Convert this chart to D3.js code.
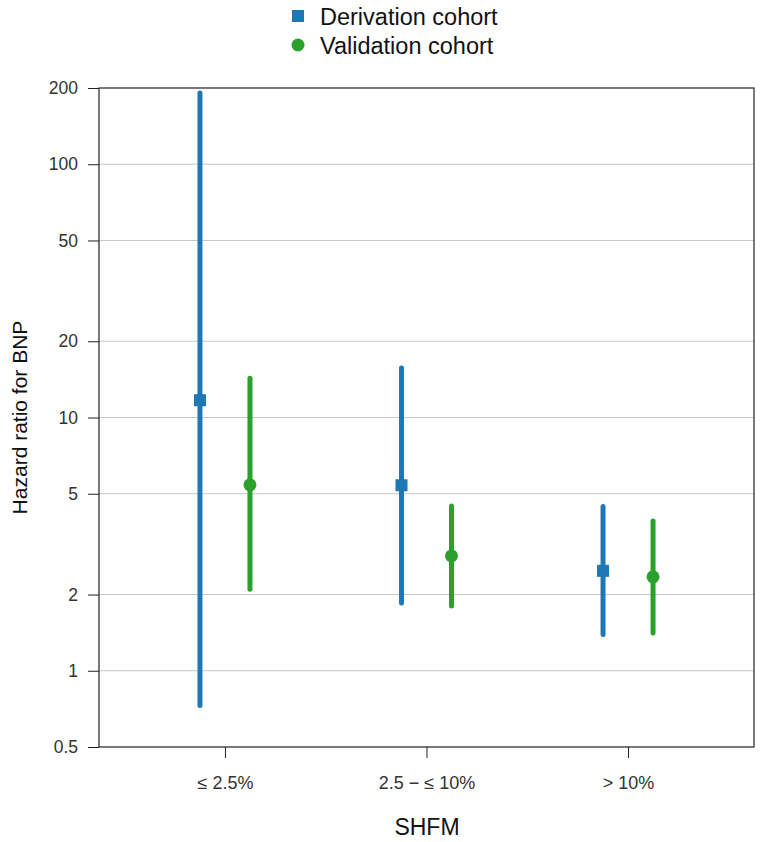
<!DOCTYPE html>
<html>
<head>
<meta charset="utf-8">
<script src="https://cdn.jsdelivr.net/npm/d3@7"></script>
<style>
  body { margin: 0; background: #fff; }
  text { font-family: "Liberation Sans", Arial, sans-serif; }
</style>
</head>
<body>
<svg id="chart" width="764" height="842"></svg>
<script>
// categories and values
var categories = ["\u2264 2.5%", "2.5 \u2212 \u2264 10%", "> 10%"]
var series = ["Derivation cohort", "Validation cohort"]
var derivHR    = [11.7, 5.4, 2.48]
var derivLower = [0.73, 1.85, 1.39]
var derivUpper = [191, 15.7, 4.45]
var validHR    = [5.42, 2.84, 2.35]
var validLower = [2.1, 1.8, 1.41]
var validUpper = [14.3, 4.47, 3.9]
var yTicks = [0.5, 1, 2, 5, 10, 20, 50, 100, 200]

var colors = ["#1f77b4", "#2ca02c"]

// plot box (window.top is reserved, so use own names)
var plotLeft = 99, plotRight = 754, plotTop = 88, plotBottom = 747

var svg = d3.select("#chart")

var x = d3.scalePoint()
    .domain(categories)
    .range([plotLeft, plotRight])
    .padding(0.625)

var y = d3.scaleLog()
    .domain([0.5, 200])
    .range([plotBottom, plotTop])

var offset = d3.scalePoint()
    .domain(series)
    .range([-25, 25])

// gridlines
svg.append("g")
    .selectAll("line")
    .data(yTicks.slice(1, -1))
    .join("line")
    .attr("x1", plotLeft)
    .attr("x2", plotRight)
    .attr("y1", d => y(d))
    .attr("y2", d => y(d))
    .style("stroke", "#c8c8c8")
    .style("stroke-width", 1)

// y axis
var yAxis = svg.append("g")
    .attr("transform", "translate(" + plotLeft + ",0)")
    .call(d3.axisLeft(y).tickValues(yTicks).tickFormat(d => d).tickSize(11).tickPadding(10))
yAxis.select(".domain").remove()
yAxis.selectAll("line").style("stroke", "#222")
yAxis.selectAll("text")
    .style("font-size", "17.5px")
    .style("fill", "#333")
    .style("font-family", "Liberation Sans, Arial, sans-serif")

// x axis
var xAxis = svg.append("g")
    .attr("transform", "translate(0," + plotBottom + ")")
    .call(d3.axisBottom(x).tickSize(11).tickPadding(18))
xAxis.select(".domain").remove()
xAxis.selectAll("line").style("stroke", "#222")
xAxis.selectAll("text")
    .style("font-size", "18px")
    .style("fill", "#333")
    .style("font-family", "Liberation Sans, Arial, sans-serif")

// frame
svg.append("rect")
    .attr("x", plotLeft)
    .attr("y", plotTop)
    .attr("width", plotRight - plotLeft)
    .attr("height", plotBottom - plotTop)
    .style("fill", "none")
    .style("stroke", "#222")
    .style("stroke-width", 1.2)

// build rows for the marks
var rows = []
categories.forEach(function(c, i) {
    rows.push({cat: c, s: series[0], hr: derivHR[i], lo: derivLower[i], hi: derivUpper[i]})
    rows.push({cat: c, s: series[1], hr: validHR[i], lo: validLower[i], hi: validUpper[i]})
})
function cx(d) { return x(d.cat) + offset(d.s) }
function col(d) { return d.s == series[0] ? colors[0] : colors[1] }

// confidence intervals
svg.append("g")
    .selectAll("line")
    .data(rows)
    .join("line")
    .attr("x1", cx)
    .attr("x2", cx)
    .attr("y1", d => y(d.lo))
    .attr("y2", d => y(d.hi))
    .style("stroke", col)
    .style("stroke-width", 5)
    .style("stroke-linecap", "round")

// point estimates
svg.append("g")
    .selectAll("rect")
    .data(rows.filter(d => d.s == series[0]))
    .join("rect")
    .attr("x", d => cx(d) - 6)
    .attr("y", d => y(d.hr) - 6)
    .attr("width", 12)
    .attr("height", 12)
    .style("fill", colors[0])

svg.append("g")
    .selectAll("circle")
    .data(rows.filter(d => d.s == series[1]))
    .join("circle")
    .attr("cx", cx)
    .attr("cy", d => y(d.hr))
    .attr("r", 6.5)
    .style("fill", colors[1])

// axis titles
svg.append("text")
    .text("SHFM")
    .attr("x", 427)
    .attr("y", 835)
    .attr("text-anchor", "middle")
    .style("font-size", "23px")
    .style("fill", "#111")

svg.append("text")
    .text("Hazard ratio for BNP")
    .attr("transform", "translate(27," + (plotTop + plotBottom) / 2 + ") rotate(-90)")
    .attr("text-anchor", "middle")
    .style("font-size", "21px")
    .style("fill", "#111")

// legend
var legend = svg.append("g")
    .selectAll("g")
    .data(series)
    .join("g")
    .attr("transform", (d, i) => "translate(298," + (16 + i * 29) + ")")

legend.filter((d, i) => i == 0).append("rect")
    .attr("x", -6).attr("y", -6).attr("width", 12).attr("height", 12)
    .style("fill", colors[0])
legend.filter((d, i) => i == 1).append("circle")
    .attr("r", 6.5)
    .style("fill", colors[1])
legend.append("text")
    .text(d => d)
    .attr("x", 22)
    .attr("y", 9)
    .style("font-size", "23.5px")
    .style("fill", "#111")
</script>
</body>
</html>
